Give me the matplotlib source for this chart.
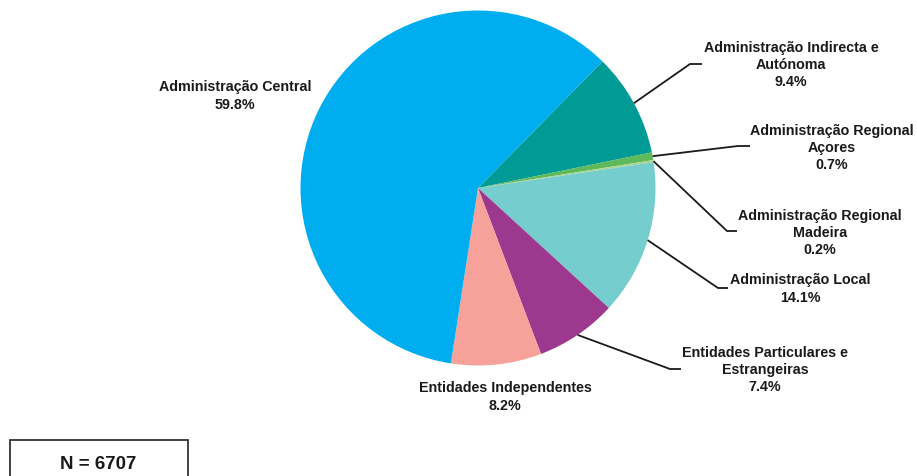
import numpy as np
import matplotlib.pyplot as plt

plt.rcParams['font.family'] = ['Liberation Sans', 'DejaVu Sans']

categories = ["Administração Indirecta e\nAutónoma", "Administração Regional\nAçores",
              "Administração Regional\nMadeira", "Administração Local",
              "Entidades Particulares e\nEstrangeiras", "Entidades Independentes",
              "Administração Central"]
shares = [9.4, 0.7, 0.2, 14.1, 7.4, 8.2, 59.8]
colors = ["#009B94", "#5DB95A", "#A9D58D", "#76CDCD", "#9D388F", "#F6A199", "#00AEEF"]
total_n = 6707

# label anchor (x, y) in pixel coords, and whether a leader line is drawn
label_pos = [(791, 65), (832, 148), (820, 233), (800, 289), (765, 370), (505, 397), (235, 96)]
elbow = [(690, 65), (738, 147), (727, 232), (718, 289), (670, 370), None, None]
elbow_len = [12, 12, 10, 10, 11, 0, 0]

W, H = 917, 477
fig = plt.figure(figsize=(W / 100, H / 100), dpi=100)
ax = fig.add_axes([0, 0, 1, 1])

cx, cy, r = 478, 189, 177.5
wedges, _ = ax.pie(shares, colors=colors, startangle=45.5, counterclock=False,
                   center=(cx, H - cy), radius=r, wedgeprops=dict(linewidth=0))

for i, w in enumerate(wedges):
    x, y = label_pos[i]
    text = f"{categories[i]}\n{shares[i]:.1f}%"
    ax.text(x, H - y, text, ha='center', va='center', fontsize=10.3,
            fontweight='bold', linespacing=1.3, color='#1a1a1a')
    if elbow[i] is not None:
        mid = np.deg2rad((w.theta1 + w.theta2) / 2)
        px, py = cx + r * np.cos(mid), H - cy + r * np.sin(mid)
        ex, ey = elbow[i]
        ax.plot([px, ex, ex + elbow_len[i]], [py, H - ey, H - ey],
                color='#1a1a1a', lw=1.3, solid_capstyle='butt')

# sample size box
ax.add_patch(plt.Rectangle((10, -5), 178, H - 441 + 5, fill=False,
                           edgecolor='#333333', lw=1.3))
ax.text(98, H - 465, f"N = {total_n}", ha='center', va='center',
        fontsize=13.5, fontweight='bold', color='#1a1a1a')

ax.set_xlim(0, W)
ax.set_ylim(0, H)
ax.set_aspect('equal')
ax.axis('off')
fig.savefig("out.png", dpi=100)
